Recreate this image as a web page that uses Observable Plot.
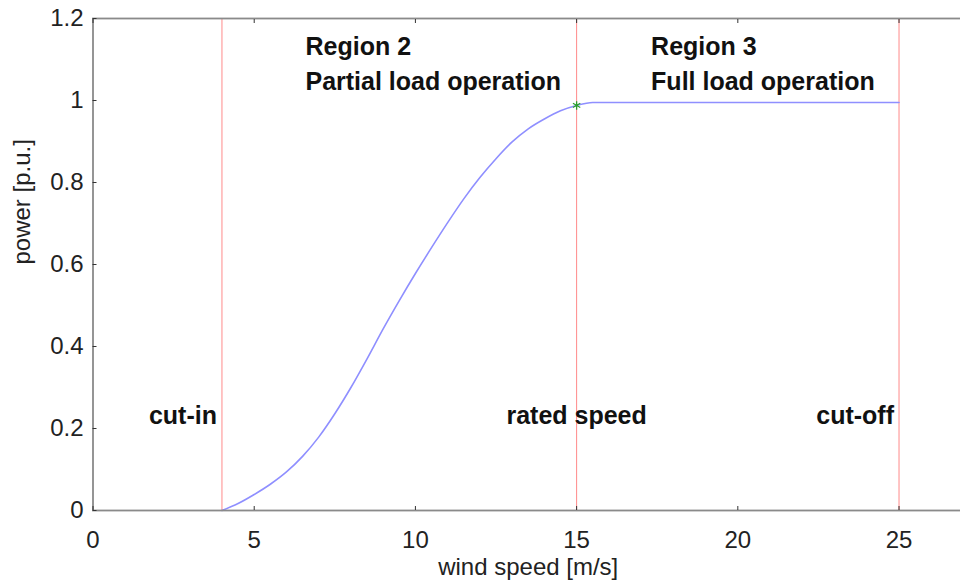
<!DOCTYPE html>
<html>
<head>
<meta charset="utf-8">
<script src="https://cdn.jsdelivr.net/npm/d3@7"></script>
<script src="https://cdn.jsdelivr.net/npm/@observablehq/plot@0.6"></script>
<style>
  html, body { margin: 0; padding: 0; background: #fff; }
  #chart svg { display: block; }
</style>
</head>
<body>
<div id="chart"></div>
<script>
// Power curve
const windSpeed = [4, 4.5, 5, 5.5, 6, 6.5, 7, 7.5, 8, 8.5, 9, 9.5, 10, 10.5, 11, 11.5, 12, 12.5, 13, 13.5, 14, 14.5, 15, 15.5, 16, 20, 25];
const power     = [0, 0.017, 0.039, 0.064, 0.094, 0.132, 0.179, 0.236, 0.300, 0.370, 0.443, 0.512, 0.578, 0.641, 0.702, 0.76, 0.812, 0.858, 0.899, 0.931, 0.955, 0.975, 0.988, 0.995, 0.995, 0.995, 0.995];

// Vertical markers
const markerSpeeds = [4, 15, 25];
const markerNames = ["cut-in", "rated speed", "cut-off"];
const markerLabelY = 0.212;

// Rated point
const ratedSpeed = [15];
const ratedPower = [0.988];

// Region annotations
const regionNames = ["Region 2\nPartial load operation", "Region 3\nFull load operation"];
const regionX = [6.59, 17.31];
const regionY = 1.173;

// Axes
const xTicks = [0, 5, 10, 15, 20, 25];
const yTicks = [0, 0.2, 0.4, 0.6, 0.8, 1, 1.2];
const xDomain = [0, 27];
const yDomain = [0, 1.2];
const xLabel = "wind speed [m/s]";
const yLabel = "power [p.u.]";

const curve = windSpeed.map((x, i) => ({x, y: power[i]}));
const markers = markerSpeeds.map((x, i) => ({x, name: markerNames[i]}));
const edgeMarkers = markers.filter(d => d.name !== "rated speed");
const midMarkers = markers.filter(d => d.name === "rated speed");
const rated = ratedSpeed.map((x, i) => ({x, y: ratedPower[i]}));
const regions = regionNames.map((t, i) => ({x: regionX[i], t}));

const font = "Liberation Sans, Arial, Helvetica, sans-serif";
const labelStyle = {lineAnchor: "bottom", fontSize: 25, fontWeight: "bold", fill: "#111"};

const chart = Plot.plot({
  width: 960,
  height: 580,
  marginLeft: 92.5,
  marginRight: -3,
  marginTop: 18,
  marginBottom: 70,
  style: {fontFamily: font, background: "#fff"},
  x: {domain: xDomain},
  y: {domain: yDomain},
  marks: [
    Plot.ruleX(markers, {x: "x", stroke: "#ff8a8a", strokeWidth: 1}),
    Plot.line(curve, {x: "x", y: "y", stroke: "#8f8fff", strokeWidth: 1.6, curve: "monotone-x"}),
    Plot.dot(rated, {x: "x", y: "y", symbol: "asterisk", r: 4, stroke: "#2ca02c", strokeWidth: 1.3}),
    Plot.frame({stroke: "#8a8a8a", strokeWidth: 1.8}),
    Plot.axisX(xTicks, {anchor: "bottom", tickSize: -4, tickPadding: 24, fontSize: 24, fill: "#222", stroke: "#333", label: null}),
    Plot.axisX(xTicks, {anchor: "top", tickSize: -4, fill: "none", stroke: "#333", label: null}),
    Plot.axisY(yTicks, {anchor: "left", tickSize: -4, tickPadding: 13.5, fontSize: 24, fill: "#222", stroke: "#333", label: null, tickFormat: d => String(d)}),
    Plot.axisY(yTicks, {anchor: "right", tickSize: -4, fill: "none", stroke: "#333", label: null}),
    Plot.text(edgeMarkers, {x: "x", y: () => markerLabelY, text: "name", textAnchor: "end", dx: -5, ...labelStyle}),
    Plot.text(midMarkers, {x: "x", y: () => markerLabelY, text: "name", textAnchor: "middle", ...labelStyle}),
    Plot.text(regions, {
      x: "x", y: () => regionY, text: "t", textAnchor: "start",
      lineAnchor: "top", lineHeight: 1.42, fontSize: 25, fontWeight: "bold", fill: "#111"
    }),
    Plot.text([yLabel], {frameAnchor: "left", dx: -70.5, rotate: -90, fontSize: 24, fill: "#222", lineAnchor: "middle"}),
    Plot.text([xLabel], {frameAnchor: "bottom", dy: 64, fontSize: 24, fill: "#222", lineAnchor: "bottom"})
  ]
});
document.getElementById("chart").appendChild(chart);
</script>
</body>
</html>
